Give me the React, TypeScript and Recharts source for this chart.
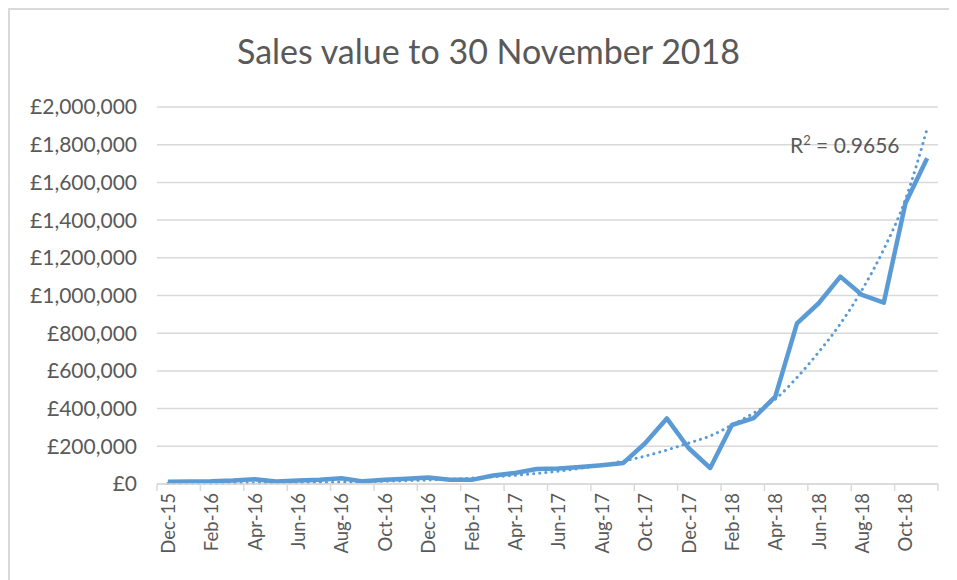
import { CartesianGrid, Line, LineChart, XAxis, YAxis } from "recharts";

const months = [
  "Dec-15", "Jan-16", "Feb-16", "Mar-16", "Apr-16", "May-16", "Jun-16", "Jul-16", "Aug-16",
  "Sep-16", "Oct-16", "Nov-16", "Dec-16", "Jan-17", "Feb-17", "Mar-17", "Apr-17", "May-17",
  "Jun-17", "Jul-17", "Aug-17", "Sep-17", "Oct-17", "Nov-17", "Dec-17", "Jan-18", "Feb-18",
  "Mar-18", "Apr-18", "May-18", "Jun-18", "Jul-18", "Aug-18", "Sep-18", "Oct-18", "Nov-18",
];

const sales = [
  12000, 13000, 14000, 18000, 25000, 13000, 18000, 22000, 30000,
  14000, 22000, 28000, 35000, 22000, 22000, 45000, 58000, 80000,
  82000, 90000, 100000, 112000, 216000, 348000, 191000, 85000, 313000,
  350000, 463000, 852000, 959000, 1100000, 1003000, 962000, 1489000, 1728000,
];

// exponential trendline as drawn on the original
const trend = [
  2000, 2500, 3000, 3700, 4500, 5400, 6600, 8000, 9700,
  11800, 14400, 17500, 21000, 26000, 31000, 38000, 46000, 56000,
  68000, 83000, 100000, 122000, 148000, 180000, 217000, 255000, 313000,
  376000, 450000, 565000, 700000, 850000, 1030000, 1245000, 1510000, 1885000,
];

const yTicks = [0, 200000, 400000, 600000, 800000, 1000000, 1200000, 1400000, 1600000, 1800000, 2000000];

const BLUE = "#5B9BD5";
const TEXT = "#595959";
const GRID = "#d9d9d9";
const FONT = "Lato, 'Open Sans', sans-serif";

const data = months.map((m, i) => ({ idx: i, label: m, sales: sales[i], trend: trend[i] }));
// tick marks sit on category boundaries, every second month
const xTicks = months.filter((_, i) => i % 2 === 0).map((_, k) => k * 2 - 0.5).concat([months.length - 0.5]);

const CHART_W = 947;
const CHART_H = 570;
const MARGIN = { top: 97, right: 19, bottom: 10, left: 0 };
const Y_W = 147;
const HALF_CAT = (CHART_W - Y_W - MARGIN.right) / months.length / 2;

function MonthTick(props: { x?: number; y?: number; payload?: { value: number } }) {
  const { x = 0, y = 0, payload } = props;
  const label = payload ? months[payload.value + 0.5] : undefined;
  if (!label) return null;
  return (
    <text
      x={0}
      y={0}
      transform={`translate(${x + HALF_CAT},${y}) rotate(-90)`}
      textAnchor="end"
      dominantBaseline="central"
      fill={TEXT}
      fontSize={18.5}
      fontFamily={FONT}
    >
      {label}
    </text>
  );
}

export default function App() {
  return (
    <div
      style={{
        position: "relative",
        width: CHART_W,
        height: CHART_H,
        borderTop: `2px solid ${GRID}`,
        borderLeft: `2px solid ${GRID}`,
        background: "white",
        fontFamily: FONT,
      }}
    >
      <div
        style={{
          position: "absolute",
          top: 21,
          left: 0,
          width: 957,
          textAlign: "center",
          fontSize: 34,
          lineHeight: "40px",
          color: TEXT,
        }}
      >
        Sales value to 30 November 2018
      </div>
      <div
        style={{
          position: "absolute",
          top: 122,
          left: 780,
          fontSize: 21,
          color: TEXT,
          zIndex: 1,
        }}
      >
        R<sup style={{ fontSize: 13 }}>2</sup> = 0.9656
      </div>
      <LineChart width={CHART_W} height={CHART_H} data={data} margin={MARGIN}>
        <CartesianGrid vertical={false} stroke={GRID} strokeWidth={1.5} />
        <XAxis
          dataKey="idx"
          type="number"
          domain={[-0.5, months.length - 0.5]}
          ticks={xTicks}
          interval={0}
          height={86}
          axisLine={{ stroke: GRID, strokeWidth: 1.5 }}
          tickLine={{ stroke: GRID, strokeWidth: 1.5 }}
          tickSize={7}
          tick={<MonthTick />}
        />
        <YAxis
          domain={[0, 2000000]}
          ticks={yTicks}
          width={Y_W}
          axisLine={false}
          tickLine={false}
          tickMargin={14}
          tick={{ fill: TEXT, fontSize: 21, fontFamily: FONT }}
          tickFormatter={(v: number) => `£${v.toLocaleString("en-GB")}`}
        />
        <Line
          type="monotone"
          dataKey="trend"
          stroke={BLUE}
          strokeWidth={3}
          strokeDasharray="0.1 6"
          strokeLinecap="round"
          dot={false}
          isAnimationActive={false}
        />
        <Line
          type="linear"
          dataKey="sales"
          stroke={BLUE}
          strokeWidth={4.5}
          strokeLinejoin="round"
          dot={false}
          isAnimationActive={false}
        />
      </LineChart>
    </div>
  );
}
